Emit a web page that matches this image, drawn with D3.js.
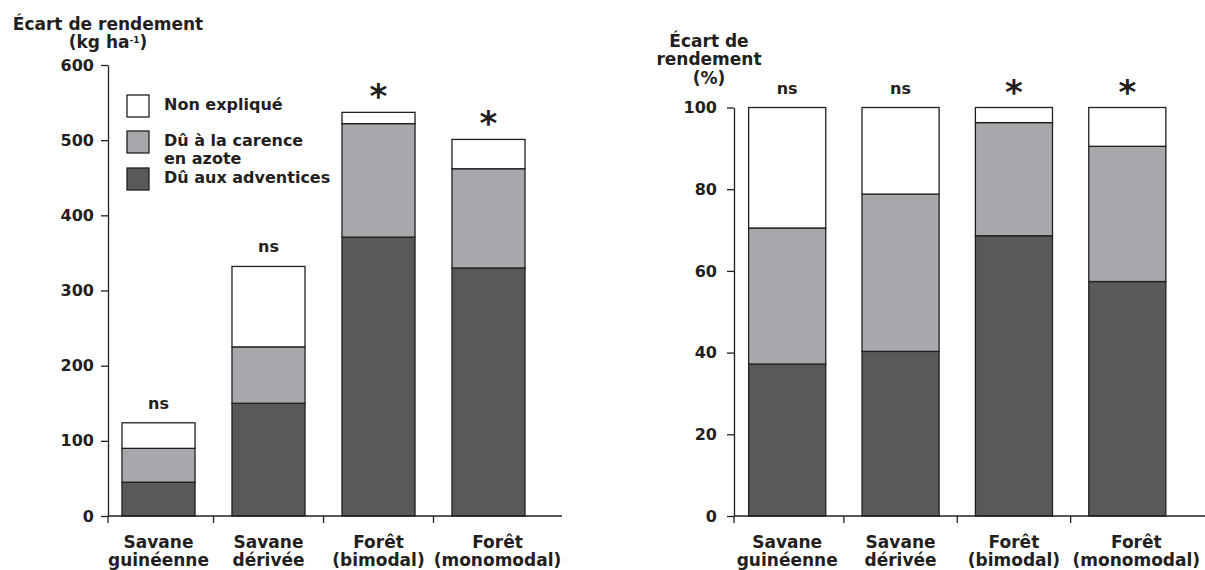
<!DOCTYPE html>
<html>
<head>
<meta charset="utf-8">
<script src="https://cdn.jsdelivr.net/npm/d3@7/dist/d3.min.js"></script>
<style>
  body { margin: 0; background: #fff; }
  svg { display: block; }
  text { font-family: "DejaVu Sans", sans-serif; font-weight: bold; fill: #231f20; }
</style>
</head>
<body>
<div id="chart"></div>
<script>
// categories (two lines each)
var categories = [["Savane", "guinéenne"], ["Savane", "dérivée"], ["Forêt", "(bimodal)"], ["Forêt", "(monomodal)"]];
var signif = ["ns", "ns", "*", "*"];

// left panel : kg/ha
var adventicesKg = [45, 150, 371, 330];
var azoteKg = [45, 75, 151, 132];
var nonExpliqueKg = [34, 107, 15, 39];
var kgTicks = [0, 100, 200, 300, 400, 500, 600];

// right panel : %
var adventicesPct = [37.2, 40.3, 68.6, 57.4];
var azotePct = [33.3, 38.5, 27.7, 33.1];
var nonExpliquePct = [29.5, 21.2, 3.7, 9.5];
var pctTicks = [0, 20, 40, 60, 80, 100];

var legendLabels = [["Non expliqué"], ["Dû à la carence", "en azote"], ["Dû aux adventices"]];
var color = ['#ffffff', '#a7a8ab', '#58595b'];
var keys = ['adv', 'azote', 'non'];
var fillOf = { adv: color[2], azote: color[1], non: color[0] };
var stroke = '#231f20';

var width = 1205, height = 570;
var svg = d3.select('#chart').append('svg')
  .attr('width', width)
  .attr('height', height);

function rows(a, b, c) {
  return categories.map(function (d, i) {
    return { i: i, adv: a[i], azote: b[i], non: c[i] };
  });
}

function panel(opt) {
  var g = svg.append('g');

  var x = d3.scaleBand()
    .domain(d3.range(categories.length))
    .range(opt.xRange)
    .paddingInner(opt.pad)
    .paddingOuter(opt.pad / 2);

  var y = d3.scaleLinear()
    .domain([0, opt.max])
    .range([opt.y0, opt.y1]);

  var stack = d3.stack().keys(keys);
  var series = stack(opt.data);

  // bars
  g.selectAll('.serie')
    .data(series)
    .enter().append('g')
    .attr('class', 'serie')
    .attr('fill', function (d) { return fillOf[d.key]; })
    .selectAll('rect')
    .data(function (d) { return d; })
    .enter().append('rect')
    .attr('x', function (d, i) { return x(i); })
    .attr('y', function (d) { return y(d[1]); })
    .attr('width', x.bandwidth())
    .attr('height', function (d) { return y(d[0]) - y(d[1]); })
    .attr('stroke', stroke)
    .attr('stroke-width', 1.3);

  // y axis
  var yAxis = d3.axisLeft(y)
    .tickValues(opt.ticks)
    .tickSize(7)
    .tickSizeOuter(0)
    .tickPadding(opt.tickPad);
  var ya = g.append('g')
    .attr('transform', 'translate(' + opt.axisX + ',0)')
    .call(yAxis);
  ya.select('.domain').attr('stroke', stroke).attr('stroke-width', 1.3);
  ya.selectAll('.tick line').attr('stroke', stroke).attr('stroke-width', 1.3);
  ya.selectAll('.tick text')
    .style('font-size', '16px')
    .attr('fill', '#231f20')
    .attr('font-family', null);

  // x axis line + boundary ticks
  g.append('line')
    .attr('x1', opt.axisX).attr('x2', opt.xEnd)
    .attr('y1', y(0)).attr('y2', y(0))
    .attr('stroke', stroke).attr('stroke-width', 1.3);

  var tickX = [opt.axisX];
  for (var i = 1; i < categories.length; i++) {
    tickX.push((x(i - 1) + x.bandwidth() + x(i)) / 2);
  }
  g.selectAll('.xtick')
    .data(tickX)
    .enter().append('line')
    .attr('class', 'xtick')
    .attr('x1', function (d) { return d; })
    .attr('x2', function (d) { return d; })
    .attr('y1', y(0))
    .attr('y2', y(0) + 7)
    .attr('stroke', stroke).attr('stroke-width', 1.3);

  // category labels (last one nudged right so it clears its neighbour)
  var lab = g.selectAll('.xlab')
    .data(categories)
    .enter().append('text')
    .attr('class', 'xlab')
    .attr('text-anchor', 'middle')
    .style('font-size', '17px');
  lab.selectAll('tspan')
    .data(function (d, i) { return d.map(function (t) { return { t: t, i: i }; }); })
    .enter().append('tspan')
    .attr('x', function (d) {
      return x(d.i) + x.bandwidth() / 2 + (d.i == categories.length - 1 ? 9 : 0);
    })
    .attr('y', function (d, j) { return 548 + j * 18; })
    .text(function (d) { return d.t; });

  // significance
  var top = series[series.length - 1];
  g.selectAll('.sig')
    .data(signif)
    .enter().append('text')
    .attr('class', 'sig')
    .attr('text-anchor', 'middle')
    .attr('x', function (d, i) { return x(i) + x.bandwidth() / 2; })
    .attr('y', function (d, i) {
      return d == '*' ? y(top[i][1]) - 4 : y(top[i][1]) - 14;
    })
    .style('font-size', function (d) { return d == '*' ? '34px' : '16px'; })
    .text(function (d) { return d; });

  // title, one text per line
  opt.title.forEach(function (line, k) {
    var t = g.append('text')
      .attr('text-anchor', 'middle')
      .attr('x', opt.titleX)
      .attr('y', opt.titleY[k])
      .style('font-size', '17px');
    line.forEach(function (part) {
      if (typeof part === 'object') {
        t.append('tspan').attr('dy', -5).style('font-size', '9px').text(part.sup);
        t.append('tspan').attr('dy', 5).text(')');
      } else {
        t.append('tspan').text(part);
      }
    });
  });

  return { x: x, y: y };
}

panel({
  data: rows(adventicesKg, azoteKg, nonExpliqueKg),
  max: 600, ticks: kgTicks,
  xRange: [103.5, 543.5], pad: 0.336,
  y0: 516, y1: 65,
  axisX: 108, xEnd: 562, tickPad: 7,
  title: [["Écart de rendement"], ["(kg ha", { sup: "-1" }]],
  titleX: 108, titleY: [30, 48]
});

panel({
  data: rows(adventicesPct, azotePct, nonExpliquePct),
  max: 100, ticks: pctTicks,
  xRange: [730.5, 1184], pad: 0.32,
  y0: 516, y1: 107.5,
  axisX: 734, xEnd: 1205, tickPad: 10,
  title: [["Écart de"], ["rendement"], ["(%)"]],
  titleX: 709, titleY: [47, 65, 84]
});

// legend
var legend = svg.append('g');
legendLabels.forEach(function (lines, i) {
  var ly = [95, 131, 168][i];
  legend.append('rect')
    .attr('x', 127).attr('y', ly)
    .attr('width', 22).attr('height', 22)
    .attr('fill', color[i])
    .attr('stroke', stroke).attr('stroke-width', 1.3);
  var tx = legend.append('text').style('font-size', '16px');
  lines.forEach(function (s, k) {
    tx.append('tspan').attr('x', 164).attr('y', ly + 15 + k * 18).text(s);
  });
});
</script>
</body>
</html>
